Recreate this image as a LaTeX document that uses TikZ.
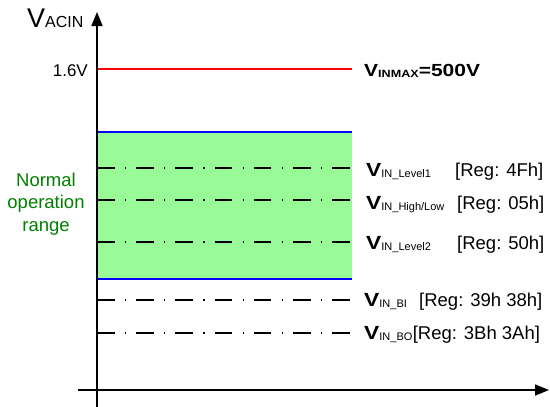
\documentclass[tikz,border=0pt]{standalone}
\usepackage{fontspec}
\setmainfont{Liberation Sans}
\newfontfamily\widefont{Liberation Sans}[FakeStretch=1.2]
\usetikzlibrary{arrows.meta,positioning}
\definecolor{rangegreen}{HTML}{98FB98}
\definecolor{rangetext}{HTML}{008000}
\newcommand{\vlabel}[1]{{\widefont\bfseries\fontsize{19}{20}\selectfont V}\raisebox{-1.5pt}{\fontsize{11}{12}\selectfont IN\_#1}}

\begin{document}
\begin{tikzpicture}[
    x=1pt, y=-1pt,
    axis/.style={line width=1.7pt, -{Triangle[length=14pt,width=11pt]}},
    bound/.style={line width=1.8pt},
    level/.style={line width=1.3pt, dash pattern=on 17.5pt off 10.5pt on 1.2pt off 10pt},
    vname/.style={anchor=base west, inner sep=0pt},
    regtext/.style={anchor=base west, inner sep=0pt, font=\fontsize{18.5}{20}\selectfont}
  ]
    \useasboundingbox (0,0) rectangle (550,407);

    % normal operation window
    \fill[rangegreen] (97,132) rectangle (352,279);
    \draw[bound, draw=blue] (97,132) -- (352,132);
    \draw[bound, draw=blue] (97,279) -- (352,279);
    \draw[bound, draw=red] (97,69) -- (352,69);

    % thresholds
    \foreach \y in {168,200,242,300,333}
      \draw[level] (97,\y) -- (352,\y);

    % axes
    \coordinate (origin) at (97,390);
    \draw[axis] (78,390) -- (549,390);
    \draw[axis] (97,407) -- (97,12);

    \node[vname] (acin) at (27,27) {\fontsize{27}{28}\selectfont V\fontsize{16}{17}\selectfont ACIN};
    \node[anchor=base east, inner sep=0pt, font=\fontsize{17}{18}\selectfont] (onesix) at (88,76) {1.6V};
    \node[vname] (vmax) at (364,76) {\widefont\bfseries\fontsize{17.5}{18}\selectfont V\raisebox{-1.5pt}{\fontsize{10.5}{11}\selectfont INMAX}=500V};

    \node[align=center, inner sep=0pt, text=rangetext, font=\fontsize{18.5}{22.5}\selectfont] (normal) at (46,204) {Normal\\operation\\range};

    \node[vname] (lvlone) at (366,176) {\vlabel{Level1}};
    \node[regtext] (lvlonereg) at (455,176) {[Reg: 4Fh]};
    \node[vname] (highlow) at (366,209) {\vlabel{High/Low}};
    \node[regtext] (highlowreg) at (457,209) {[Reg: 05h]};
    \node[vname] (lvltwo) at (366,249) {\vlabel{Level2}};
    \node[regtext] (lvltworeg) at (457,249) {[Reg: 50h]};
    \node[vname] (brownin) at (364,306) {\vlabel{BI}};
    \node[regtext] (browninreg) at (419,306) {[Reg: 39h 38h]};
    \node[vname] (brownout) at (364,339) {\vlabel{BO}};
    \node[regtext, right=0pt of brownout.base east, anchor=base west] (brownoutreg) {[Reg: 3Bh 3Ah]};
  \end{tikzpicture}
\end{document}
